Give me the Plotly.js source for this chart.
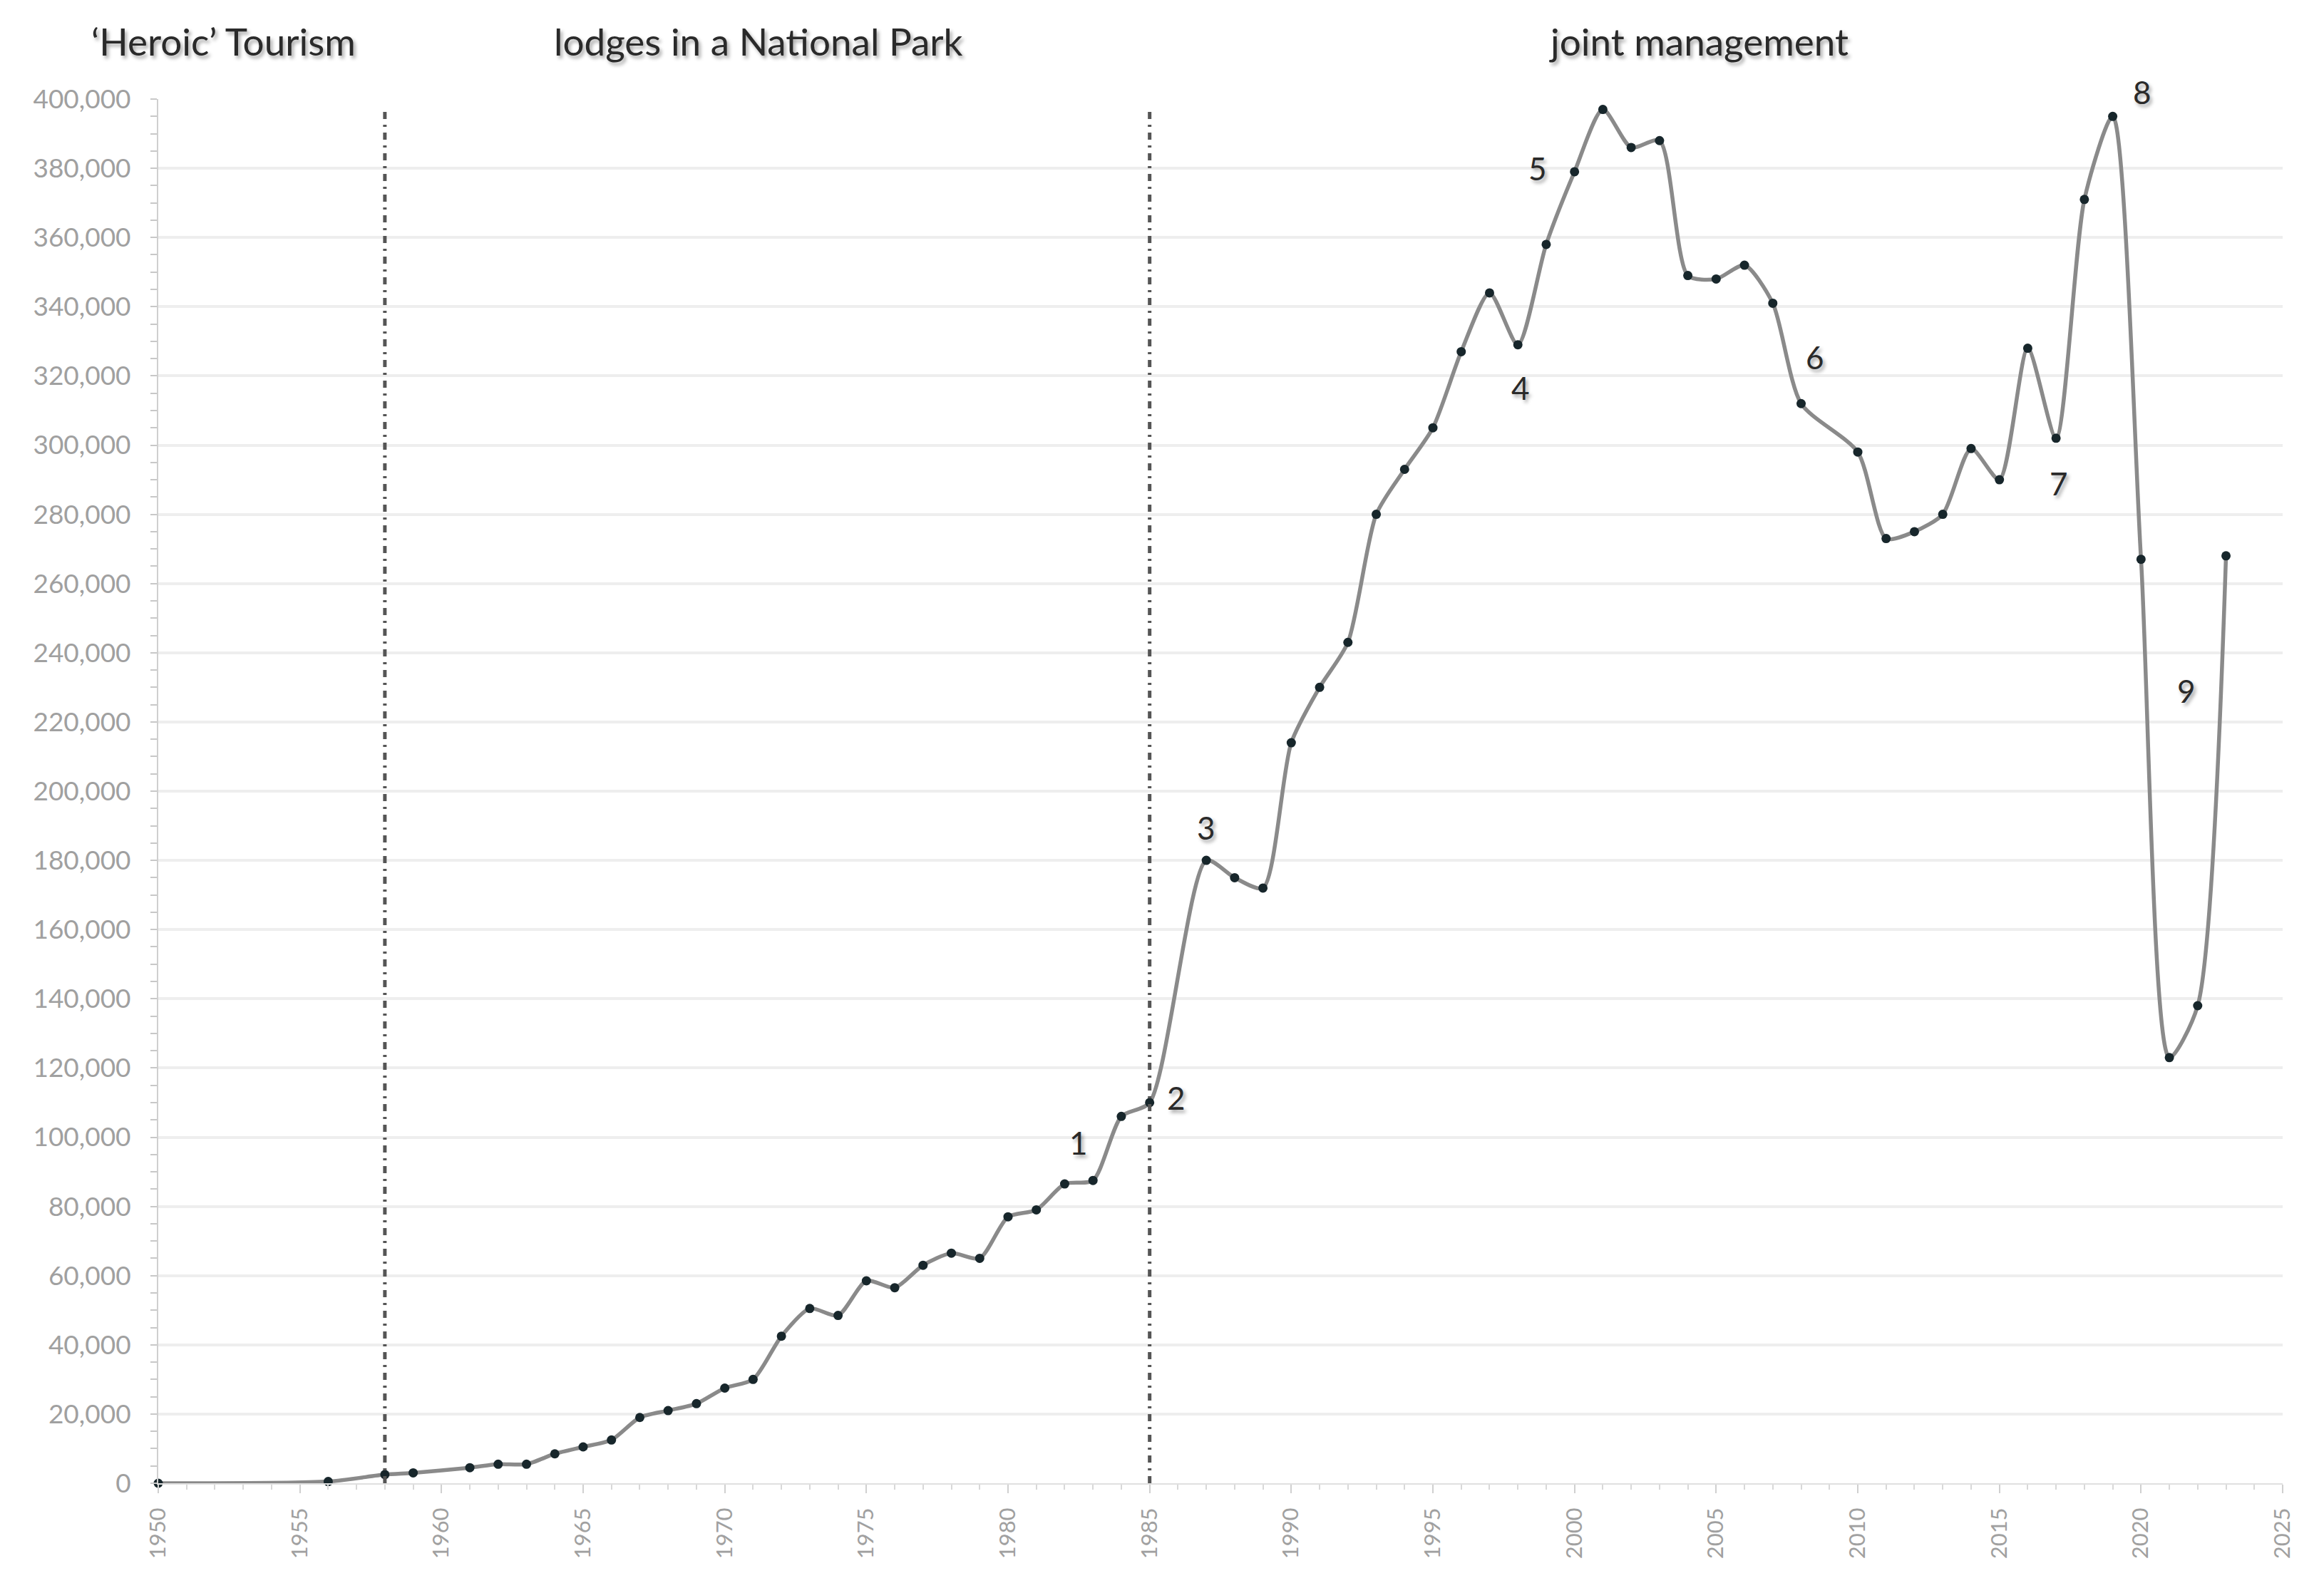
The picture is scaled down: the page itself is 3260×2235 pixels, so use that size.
<!DOCTYPE html>
<html>
<head>
<meta charset="utf-8">
<script src="https://cdn.plot.ly/plotly-3.0.1.min.js"></script>
<style>
html,body{margin:0;padding:0;background:#fff;}
#chart{width:3260px;height:2235px;}
</style>
</head>
<body>
<div id="chart"></div>
<script>
// Data
const years = [1950,1956,1958,1959,1961,1962,1963,1964,1965,1966,1967,1968,1969,1970,1971,1972,1973,1974,1975,1976,1977,1978,1979,1980,1981,1982,1983,1984,1985,1987,1988,1989,1990,1991,1992,1993,1994,1995,1996,1997,1998,1999,2000,2001,2002,2003,2004,2005,2006,2007,2008,2010,2011,2012,2013,2014,2015,2016,2017,2018,2019,2020,2021,2022,2023];
const visitors = [0,500,2500,3000,4500,5500,5500,8500,10500,12500,19000,21000,23000,27500,30000,42500,50500,48500,58500,56500,63000,66500,65000,77000,79000,86500,87500,106000,110000,180000,175000,172000,214000,230000,243000,280000,293000,305000,327000,344000,329000,358000,379000,397000,386000,388000,349000,348000,352000,341000,312000,298000,273000,275000,280000,299000,290000,328000,302000,371000,395000,267000,123000,138000,268000];

// Period boundaries and period names
const periodBounds = [1958, 1985];
const periodNames = ["\u2018Heroic\u2019 Tourism", "lodges in a National Park", "joint management"];
const periodNameX = [1952.3, 1971.2, 2004.4];

// Numbered event markers
const eventLabels = ["1","2","3","4","5","6","7","8","9"];
const eventX = [1982.5, 1985.95, 1987.0, 1998.1, 1998.7, 2008.5, 2017.1, 2020.05, 2021.6];
const eventY = [98500, 111500, 189500, 316500, 380000, 325500, 289000, 402000, 229000];

const yMax = 400000;
const yTicks = [];
for (let v = 0; v <= yMax; v += 20000) yTicks.push(v);
const xTicks = [];
for (let v = 1950; v <= 2025; v += 5) xTicks.push(v);

const FONT = "Lato, 'Open Sans', 'DejaVu Sans', sans-serif";
const shadow = "3px 4px 5px rgba(0,0,0,0.35)";

const traces = [
  {
    x: years, y: visitors,
    type: 'scatter', mode: 'lines+markers',
    line: {color: '#8a8a8a', width: 5.5, shape: 'spline', smoothing: 0.7},
    marker: {color: '#17262b', size: 13, symbol: 'circle'},
    hoverinfo: 'x+y', showlegend: false, cliponaxis: false
  }
];

const shapes = periodBounds.map(b => ({
  type: 'line', xref: 'x', yref: 'y',
  x0: b, x1: b, y0: 0, y1: 397000,
  line: {color: '#555555', width: 5, dash: '10px,8px,3px,8px'}
}));

const annotations = periodNames.map((t, i) => ({
  text: t, xref: 'x', yref: 'paper',
  x: periodNameX[i], y: 1.042,
  xanchor: 'center', yanchor: 'middle', showarrow: false,
  font: {family: FONT, size: 53, color: '#2a2a2a', shadow: shadow}
})).concat(eventLabels.map((t, i) => ({
  text: t, xref: 'x', yref: 'y domain',
  x: eventX[i], y: eventY[i] / yMax,
  xanchor: 'center', yanchor: 'middle', showarrow: false,
  font: {family: FONT, size: 44, color: '#2a2a2a', shadow: shadow}
})));

const layout = {
  width: 3260, height: 2235,
  paper_bgcolor: '#ffffff', plot_bgcolor: '#ffffff',
  margin: {l: 222, r: 58, t: 139, b: 154},
  font: {family: FONT, color: '#999999'},
  showlegend: false,
  xaxis: {
    range: [1950, 2025], tickvals: xTicks, ticktext: xTicks.map(String),
    tickangle: -90, tickfont: {size: 31, color: '#a0a0a0'},
    ticks: 'outside', ticklen: 12, tickwidth: 2, tickcolor: '#d0d0d0',
    ticklabelstandoff: 8,
    minor: {dtick: 1, tick0: 1950, ticks: 'outside', ticklen: 7, tickwidth: 2, tickcolor: '#d8d8d8', showgrid: false},
    showline: true, linecolor: '#e0e0e0', linewidth: 2,
    showgrid: false, zeroline: false, fixedrange: true
  },
  yaxis: {
    range: [0, yMax], tickvals: yTicks, tickformat: ',d',
    tickfont: {size: 37, color: '#a0a0a0'},
    ticks: 'outside', ticklen: 9, tickwidth: 2, tickcolor: '#c8c8c8',
    ticklabelstandoff: 20,
    minor: {dtick: 5000, tick0: 0, ticks: 'outside', ticklen: 9, tickwidth: 2, tickcolor: '#c8c8c8', showgrid: false},
    showline: true, linecolor: '#cfcfcf', linewidth: 2,
    showgrid: true, gridcolor: '#eeeeee', gridwidth: 4,
    zeroline: false, fixedrange: true
  },
  shapes: shapes,
  annotations: annotations
};

Plotly.newPlot('chart', traces, layout, {displayModeBar: false, staticPlot: true});
</script>
</body>
</html>
